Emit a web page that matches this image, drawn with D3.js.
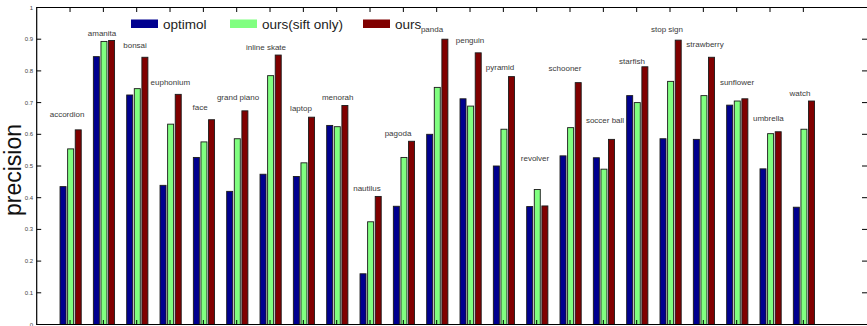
<!DOCTYPE html>
<html>
<head>
<meta charset="UTF-8">
<script src="https://d3js.org/d3.v7.min.js"></script>
<style>
  body { margin: 0; background: #fff; font-family: "Liberation Sans", Arial, sans-serif; }
  .tick-label { font-size: 6px; fill: #444; }
  .cat-label { font-size: 8px; fill: #3a3a3a; }
  .legend { font-size: 13.5px; fill: #222; }
</style>
</head>
<body>
<div id="chart"></div>
<script>
var categories = ['accordion', 'amanita', 'bonsai', 'euphonium', 'face', 'grand piano', 'inline skate',
  'laptop', 'menorah', 'nautilus', 'pagoda', 'panda', 'penguin', 'pyramid', 'revolver', 'schooner',
  'soccer ball', 'starfish', 'stop sign', 'strawberry', 'sunflower', 'umbrella', 'watch'];

var seriesNames = ['optimol', 'ours(sift only)', 'ours'];

var optimol = [0.435, 0.845, 0.724, 0.439, 0.527, 0.420, 0.474, 0.467, 0.628, 0.160, 0.373, 0.600,
  0.712, 0.500, 0.372, 0.532, 0.526, 0.722, 0.586, 0.584, 0.692, 0.491, 0.370];
var oursSift = [0.554, 0.893, 0.744, 0.632, 0.576, 0.586, 0.785, 0.510, 0.624, 0.324, 0.527, 0.748,
  0.689, 0.616, 0.426, 0.621, 0.490, 0.700, 0.767, 0.722, 0.705, 0.602, 0.616];
var ours = [0.614, 0.896, 0.843, 0.726, 0.646, 0.674, 0.850, 0.654, 0.691, 0.404, 0.578, 0.900,
  0.857, 0.782, 0.374, 0.763, 0.584, 0.813, 0.897, 0.843, 0.712, 0.608, 0.705];

// annotation anchors, in axis units (category position, precision)
var labelX = [0.91, 1.96, 2.95, 4.01, 4.90, 6.04, 6.88, 7.93, 9.03, 9.91, 10.84, 11.86, 13.0, 13.90,
  14.95, 15.85, 17.05, 17.86, 18.91, 20.05, 21.01, 21.95, 22.90];
var labelY = [0.664, 0.920, 0.882, 0.765, 0.686, 0.718, 0.875, 0.683, 0.718, 0.431, 0.604, 0.932,
  0.897, 0.812, 0.525, 0.809, 0.645, 0.832, 0.932, 0.886, 0.765, 0.651, 0.730];

var yTicks = [0, 0.1, 0.2, 0.3, 0.4, 0.5, 0.6, 0.7, 0.8, 0.9, 1];
var colors = ['#00008f', '#80ff80', '#800000'];

var width = 867, height = 326;
var svg = d3.select('#chart').append('svg')
  .attr('width', width).attr('height', height);

var x = d3.scaleLinear().domain([0, 25]).range([36.7, 870]);
var y = d3.scaleLinear().domain([0, 1]).range([324.5, 7.5]);

var series = [optimol, oursSift, ours];
var barW = x(0.18) - x(0);
var step = x(0.228) - x(0);

// bars
series.forEach(function(vals, j) {
  svg.append('g').selectAll('rect')
    .data(vals)
    .enter().append('rect')
    .attr('x', function(d, i) { return x(i + 1) + (j - 1) * step - barW / 2 + 0.6; })
    .attr('y', function(d) { return y(d); })
    .attr('width', barW)
    .attr('height', function(d) { return y(0) - y(d); })
    .attr('fill', colors[j])
    .attr('stroke', '#1a1a1a')
    .attr('stroke-width', 0.9);
});

// axes box
var x0 = x(0), x1 = x(25), yT = y(1), yB = y(0);
svg.append('path')
  .attr('d', 'M' + x0 + ',' + yT + 'H' + x1 + 'V' + yB + 'H' + x0 + 'Z')
  .attr('fill', 'none').attr('stroke', '#000').attr('stroke-width', 1.2);

// y ticks on left and right, inward
var yt = svg.append('g');
yTicks.forEach(function(t) {
  yt.append('line').attr('x1', x0).attr('x2', x0 + 4.5).attr('y1', y(t)).attr('y2', y(t))
    .attr('stroke', '#000');
  yt.append('line').attr('x1', x1 - 8).attr('x2', x1).attr('y1', y(t)).attr('y2', y(t))
    .attr('stroke', '#000');
  yt.append('text').attr('class', 'tick-label')
    .attr('x', x0 - 3.5).attr('y', y(t) + 2)
    .attr('text-anchor', 'end')
    .text(t === 0 || t === 1 ? String(t) : t.toFixed(1));
});

// x ticks top and bottom, inward
var xt = svg.append('g');
d3.range(1, categories.length + 1).forEach(function(k) {
  xt.append('line').attr('x1', x(k)).attr('x2', x(k)).attr('y1', yT).attr('y2', yT + 4.5)
    .attr('stroke', '#000');
  xt.append('line').attr('x1', x(k)).attr('x2', x(k)).attr('y1', yB).attr('y2', yB - 4.5)
    .attr('stroke', '#000');
});

// category annotations
svg.append('g').selectAll('text')
  .data(categories)
  .enter().append('text')
  .attr('class', 'cat-label')
  .attr('x', function(d, i) { return x(labelX[i]); })
  .attr('y', function(d, i) { return y(labelY[i]) + 3; })
  .attr('text-anchor', 'middle')
  .text(function(d) { return d; });

// y label
svg.append('text')
  .attr('transform', 'translate(21,170) rotate(-90)')
  .attr('text-anchor', 'middle')
  .style('font-size', '23px')
  .style('fill', '#111')
  .text('precision');

// legend
var legendX = [131, 230, 363];
var legend = svg.append('g');
seriesNames.forEach(function(name, j) {
  legend.append('rect')
    .attr('x', legendX[j]).attr('y', 19.5)
    .attr('width', 27).attr('height', 8.5)
    .attr('fill', colors[j]);
  legend.append('text').attr('class', 'legend')
    .attr('x', legendX[j] + 32).attr('y', 28.5)
    .text(name);
});
</script>
</body>
</html>
